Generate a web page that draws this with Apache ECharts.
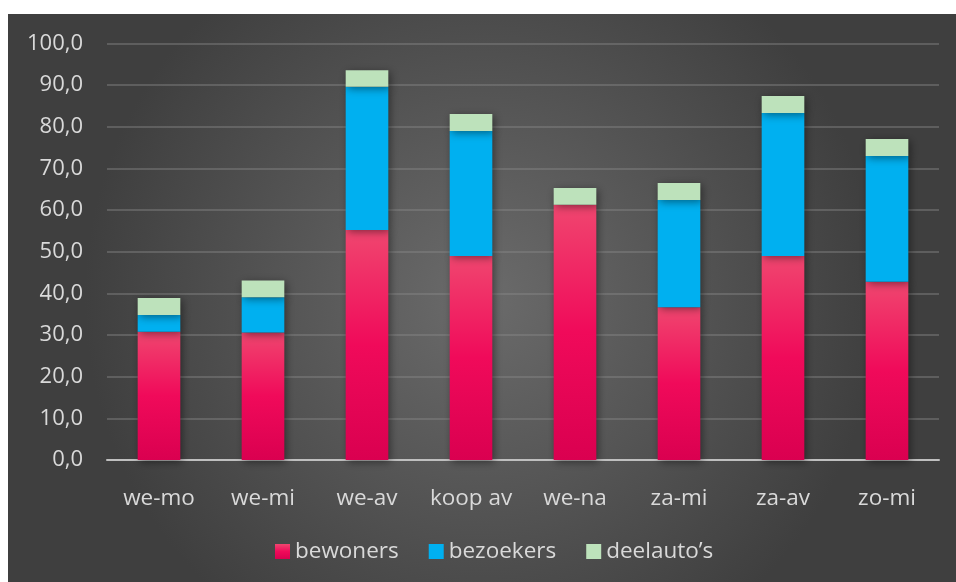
<!DOCTYPE html>
<html><head><meta charset="utf-8">
<script src="https://cdn.jsdelivr.net/npm/echarts@6/dist/echarts.min.js"></script>
<style>html,body{margin:0;padding:0;background:#fff}#c{width:956px;height:582px}</style>
</head><body><div id="c"></div>
<script>
const categories = ['we-mo','we-mi','we-av','koop av','we-na','za-mi','za-av','zo-mi'];
const bewoners   = [30.8, 30.6, 55.2, 49.0, 61.3, 36.7, 49.0, 42.8];
const bezoekers  = [4.0, 8.5, 34.4, 30.0, 0, 25.7, 34.3, 30.2];
const deelautos  = [4.1, 4.0, 4.0, 4.1, 4.0, 4.1, 4.1, 4.1];
const yTicks = [0,10,20,30,40,50,60,70,80,90,100];

const font = '"Segoe UI","Open Sans","Noto Sans",sans-serif';
const shadow = {shadowBlur: 8, shadowColor: 'rgba(0,0,0,0.45)', shadowOffsetX: 2, shadowOffsetY: 2};
const chart = echarts.init(document.getElementById('c'));
chart.setOption({
  animation: false,
  graphic: [{
    type: 'rect', z: -10, silent: true,
    shape: {x: 8, y: 14, width: 948, height: 568},
    style: {fill: new echarts.graphic.RadialGradient(0.5, 0.5, 0.7, [
      {offset: 0, color: '#6b6b6b'}, {offset: 1, color: '#3f3f3f'}])}
  }],
  grid: {left: 107, right: 17, top: 43.5, bottom: 122},
  legend: {
    bottom: 14, left: 270, itemWidth: 15, itemHeight: 15, itemGap: 30,
    icon: 'rect',
    textStyle: {color: '#d9d9d9', fontSize: 22.5, fontFamily: font},
    data: ['bewoners','bezoekers','deelauto\u2019s']
  },
  xAxis: {
    type: 'category', data: categories,
    axisLine: {lineStyle: {color: '#bfbfbf', width: 2}},
    axisTick: {show: false},
    axisLabel: {color: '#d9d9d9', fontSize: 22.5, fontFamily: font, margin: 27, interval: 0}
  },
  yAxis: {
    type: 'value', min: yTicks[0], max: yTicks[yTicks.length-1], interval: 10,
    axisLine: {show: false}, axisTick: {show: false},
    splitLine: {lineStyle: {color: 'rgba(140,140,140,0.55)', width: 1.5}},
    axisLabel: {color: '#d9d9d9', fontSize: 22, fontFamily: font, margin: 24,
      formatter: v => v.toFixed(1).replace('.', ',')}
  },
  series: [
    {name: 'bewoners', type: 'bar', stack: 's', data: bewoners, barWidth: '41%',
     itemStyle: Object.assign({color: new echarts.graphic.LinearGradient(0,0,0,1,[
       {offset: 0, color: '#f0466f'}, {offset: 0.5, color: '#f00a5a'}, {offset: 1, color: '#da0050'}])}, shadow)},
    {name: 'bezoekers', type: 'bar', stack: 's', data: bezoekers,
     itemStyle: Object.assign({color: '#00b0f0'}, shadow)},
    {name: 'deelauto\u2019s', type: 'bar', stack: 's', data: deelautos,
     itemStyle: Object.assign({color: '#bde2bb'}, shadow)}
  ]
});
</script></body></html>
